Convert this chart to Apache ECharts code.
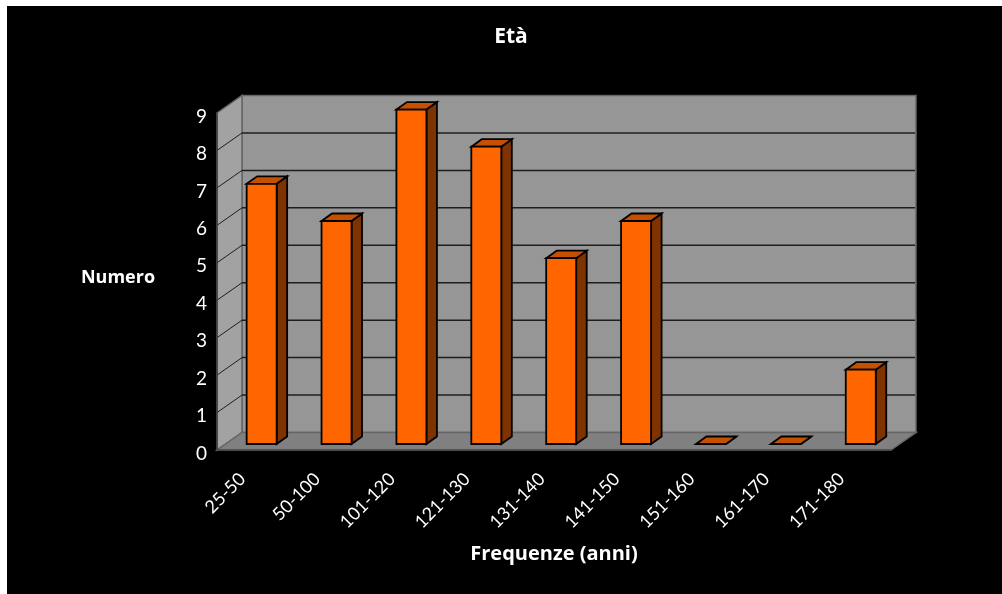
<!DOCTYPE html>
<html>
<head>
<meta charset="utf-8">
<style>
  html, body { margin: 0; height: 100%; background: #fff; overflow: hidden; }
  #chart { position: absolute; left: 7px; top: 6px; width: 995px; height: 588px; background: #000; }
</style>
<script src="https://cdn.jsdelivr.net/npm/echarts@6/dist/echarts.min.js"></script>
</head>
<body>
<div id="chart"></div>
<script>
// Age-class counts
const categories = ['25-50', '50-100', '101-120', '121-130', '131-140', '141-150', '151-160', '161-170', '171-180'];
const counts = [7, 6, 9, 8, 5, 6, 0, 0, 2];
const yTicks = [0, 1, 2, 3, 4, 5, 6, 7, 8, 9];

// Pseudo-3D projection: how far the back wall and the bars sit behind the axis plane
const wallDepth = { x: 25, y: -17.5 };
const barOffset = { x: 7.2, y: -6 };
const barDepth = { x: 10.5, y: -7.5 };
const barWidth = 30;
const barHeightScale = 0.9925;
const barStroke = 1.8;

const colors = {
  wall: '#969696', sideWall: '#a2a2a2', floor: '#808080',
  wallEdge: '#666666', grid: '#1e1e1e',
  barFront: '#ff6600', barTop: '#c65000', barSide: '#7f3300', barEdge: '#000000'
};
const font = '"Open Sans", sans-serif';

function poly(points, fill, stroke, lineWidth) {
  return {
    type: 'polygon',
    shape: { points },
    style: { fill, stroke, lineWidth, lineJoin: 'miter' }
  };
}

function line(x1, y1, x2, y2, stroke, lineWidth) {
  return { type: 'line', shape: { x1, y1, x2, y2 }, style: { stroke, lineWidth } };
}

// Back wall, side wall, floor and their gridlines
function renderWalls(params, api) {
  const { x, y, width, height } = params.coordSys;
  const dx = wallDepth.x, dy = wallDepth.y;
  const bottom = y + height, right = x + width;
  const children = [
    poly([[x + dx, y + dy], [right + dx, y + dy], [right + dx, bottom + dy], [x + dx, bottom + dy]], colors.wall, colors.wallEdge, 1.5),
    poly([[x, y], [x + dx, y + dy], [x + dx, bottom + dy], [x, bottom]], colors.sideWall, colors.wallEdge, 1.5),
    poly([[x, bottom], [x + dx, bottom + dy], [right + dx, bottom + dy], [right, bottom]], colors.floor, colors.wallEdge, 1.5)
  ];
  yTicks.slice(1, -1).forEach(function (tick) {
    const ty = api.coord([0, tick])[1];
    children.push(line(x, ty, x + dx, ty + dy, colors.grid, 1));
    children.push(line(x + dx, ty + dy, right + dx - 1, ty + dy, colors.grid, 1.5));
  });
  children.push(line(x, y, x, bottom, '#3c3c3c', 1.5));
  children.push(line(x, bottom, right, bottom, '#4a4a4a', 1.5));
  return { type: 'group', children };
}

// One extruded bar: side, top, then front face
function renderBar(params, api) {
  const base = api.coord([api.value(0), 0]);
  const tip = api.coord([api.value(0), api.value(1)]);
  const left = base[0] + barOffset.x - barWidth / 2;
  const right = left + barWidth;
  const bottom = base[1] + barOffset.y;
  const top = bottom - (base[1] - tip[1]) * barHeightScale;
  const dx = barDepth.x, dy = barDepth.y;
  const children = [
    poly([[right, top], [right + dx, top + dy], [right + dx, bottom + dy], [right, bottom]], colors.barSide, colors.barEdge, barStroke),
    poly([[left, top], [left + dx, top + dy], [right + dx, top + dy], [right, top]], colors.barTop, colors.barEdge, barStroke)
  ];
  if (top < bottom) {
    children.push(poly([[left, top], [right, top], [right, bottom], [left, bottom]], colors.barFront, colors.barEdge, barStroke));
  }
  return { type: 'group', children };
}

const chart = echarts.init(document.getElementById('chart'), null, { renderer: 'canvas' });
chart.setOption({
  backgroundColor: '#000',
  animation: false,
  title: {
    text: 'Età',
    left: 499,
    top: 16,
    textAlign: 'center',
    textStyle: { color: '#fff', fontFamily: font, fontWeight: 'bold', fontSize: 21 }
  },
  grid: { left: 210, top: 107, width: 674, height: 337 },
  xAxis: {
    type: 'category',
    data: categories,
    axisLine: { show: false },
    axisTick: { show: false },
    axisLabel: { color: '#fff', fontFamily: 'Lato, sans-serif', fontSize: 18, rotate: 45, interval: 0, margin: 14, padding: [0, 17, 0, 0] },
    name: 'Frequenze (anni)',
    nameLocation: 'middle',
    nameGap: 94,
    nameTextStyle: { color: '#fff', fontFamily: font, fontWeight: 'bold', fontSize: 20 }
  },
  yAxis: {
    type: 'value',
    min: 0,
    max: 9,
    interval: 1,
    splitLine: { show: false },
    axisLine: { show: false },
    axisTick: { show: false },
    axisLabel: {
      margin: 10,
      formatter: '{tick|{value}}',
      rich: {
        tick: { color: '#fff', fontFamily: 'Lato, sans-serif', fontSize: 19, padding: [7, 0, 0, 0] }
      }
    },
    name: '{title|Numero}',
    nameLocation: 'middle',
    nameRotate: 0,
    nameGap: 99,
    nameTextStyle: {
      align: 'center',
      rich: {
        title: { color: '#fff', fontFamily: font, fontWeight: 'bold', fontSize: 18, padding: [0, 0, 8, 0] }
      }
    }
  },
  series: [
    { type: 'custom', silent: true, clip: false, z: 1, renderItem: renderWalls, data: [[0, 0]] },
    {
      type: 'custom', clip: false, z: 2, renderItem: renderBar,
      encode: { x: 0, y: 1 },
      data: counts.map(function (v, i) { return [i, v]; })
    }
  ]
});
</script>
</body>
</html>
